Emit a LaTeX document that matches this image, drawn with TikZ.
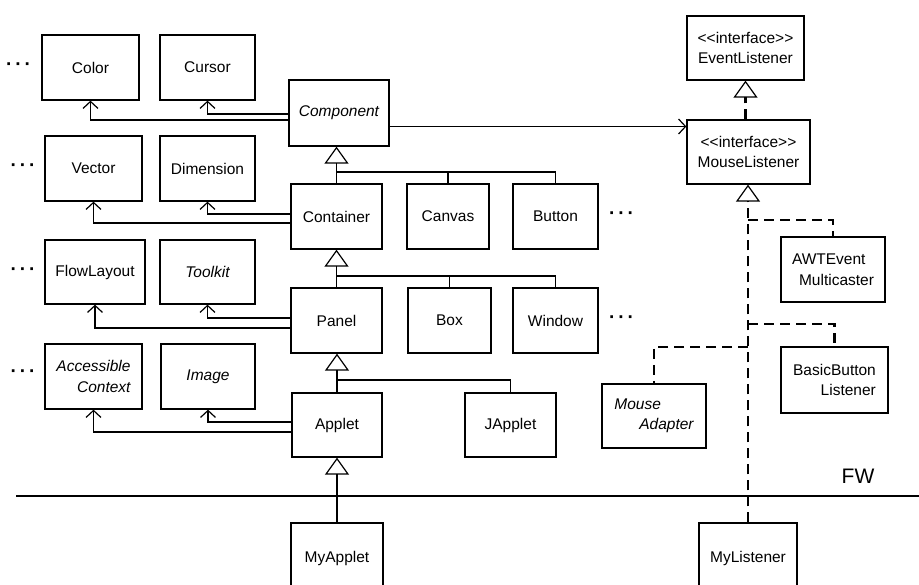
\documentclass[tikz,border=0pt]{standalone}
\usepackage{fontspec}
\setmainfont{Liberation Sans}
\usetikzlibrary{arrows.meta}
\newcommand\threedots{·\hspace{3pt}·\hspace{3pt}·}
\begin{document}
\begin{tikzpicture}[x=1pt,y=-1pt,
  cls/.style={draw, line width=1.3pt, inner sep=0pt, minimum height=65pt, fill=white,
    font=\fontsize{15.5}{20.5}\selectfont},
  dotsty/.style={inner sep=0pt, font=\fontsize{19}{19}\selectfont\bfseries},
  plain/.style={line width=1.2pt},
  dep/.style={line width=1.2pt, -{Straight Barb[length=7pt,width=15pt,line width=1.2pt]}},
  inh/.style={line width=1.2pt, -{Triangle[open,length=17pt,width=24pt,line width=1.2pt]}},
  real/.style={line width=2.2pt, dash pattern=on 10pt off 6pt},
  realinh/.style={real, -{Triangle[open,length=17pt,width=24pt,line width=1.2pt]}}
]
\useasboundingbox (0,0) rectangle (919,585);
\clip (0,0) rectangle (919,585);

% left column classes
\node[cls, minimum width=97pt] (Color) at (90.5,67.5) {Color};
\node[cls, minimum width=95pt] (Cursor) at (207.5,67.5) {Cursor};
\node[cls, minimum width=97pt] (Vector) at (93.5,168.5) {Vector};
\node[cls, minimum width=95pt] (Dimension) at (207.5,168.5) {Dimension};
\node[cls, minimum width=100pt, minimum height=64pt] (FlowLayout) at (95,272) {FlowLayout};
\node[cls, minimum width=95pt, minimum height=64pt] (Toolkit) at (207.5,272) {\itshape Toolkit};
\node[cls, minimum width=97pt, align=right] (Accessible) at (93.5,376.5) {\itshape Accessible\\\itshape Context};
\node[cls, minimum width=94pt] (Image) at (208,376.5) {\itshape Image};

% hierarchy
\node[cls, minimum width=100pt, minimum height=66pt] (Component) at (339,113) {\itshape Component};
\node[cls, minimum width=91pt] (Container) at (336.5,216.5) {Container};
\node[cls, minimum width=82pt] (Canvas) at (448,216.5) {Canvas};
\node[cls, minimum width=85pt] (Button) at (555.5,216.5) {Button};
\node[cls, minimum width=91pt] (Panel) at (336.5,320.5) {Panel};
\node[cls, minimum width=83pt] (Box) at (449.5,320.5) {Box};
\node[cls, minimum width=85pt] (Window) at (555.5,320.5) {Window};
\node[cls, minimum width=90pt, minimum height=64pt] (Applet) at (337,425) {Applet};
\node[cls, minimum width=91pt, minimum height=64pt] (JApplet) at (510.5,425) {JApplet};
\node[cls, minimum width=92pt, minimum height=70pt] (MyApplet) at (337,558) {MyApplet};

% listeners
\node[cls, minimum width=117pt, minimum height=64pt, align=center] (EventListener) at (745.5,48) {<{}<interface>{}>\\EventListener};
\node[cls, minimum width=123pt, minimum height=64pt, align=center] (MouseListener) at (748.5,152) {<{}<interface>{}>\\MouseListener};
\node[cls, minimum width=104pt, align=left] (AWT) at (833,269.5) {AWTEvent\\\hspace{7pt}Multicaster};
\node[cls, minimum width=107pt, minimum height=66pt, align=right] (Basic) at (834.5,380) {BasicButton\\Listener};
\node[cls, minimum width=104pt, minimum height=64pt, align=left] (MouseAdapter) at (654,416) {\itshape Mouse\\\hspace{25pt}\itshape Adapter};
\node[cls, minimum width=98pt, minimum height=70pt] (MyListener) at (748,558) {MyListener};

% ellipses
\node[dotsty] (d1) at (18.5,67) {\threedots};
\node[dotsty] (d2) at (23,168) {\threedots};
\node[dotsty] (d3) at (23,272) {\threedots};
\node[dotsty] (d4) at (23,374) {\threedots};
\node[dotsty] (d5) at (621.5,216) {\threedots};
\node[dotsty] (d6) at (621.5,320) {\threedots};

% FW boundary
\coordinate (fwL) at (16,496);
\coordinate (fwR) at (919,496);
\draw[line width=1.3pt] (fwL) -- (fwR);
\node[font=\fontsize{21}{21}\selectfont] (fw) at (858,476) {FW};

% dependencies
\draw[dep] ([yshift=-7pt]Component.west) -| (Color.south);
\draw[dep] ([yshift=-1pt]Component.west) -| (Cursor.south);
\draw[dep] ([yshift=-6.5pt]Container.west) -| (Vector.south);
\draw[dep] ([yshift=2.5pt]Container.west) -| (Dimension.south);
\draw[dep] ([yshift=-7.5pt]Panel.west) -| (FlowLayout.south);
\draw[dep] ([yshift=2.5pt]Panel.west) -| (Toolkit.south);
\draw[dep] ([yshift=-7pt]Applet.west) -| (Accessible.south);
\draw[dep] ([yshift=3pt]Applet.west) -| (Image.south);
\coordinate (cm) at ([yshift=-13.5pt]Component.east);
\draw[dep] (cm) -- (cm -| MouseListener.west);

% inheritance trees
\coordinate (j1) at (336.5,172);
\draw[inh] (j1) -- (j1 |- Component.south);
\draw[plain] (Container.north) -- (j1) -| (Button.north);
\draw[plain] (j1) -| (Canvas.north);

\coordinate (j2) at (336.5,276);
\draw[inh] (j2) -- (j2 |- Container.south);
\draw[plain] (Panel.north) -- (j2) -| (Window.north);
\draw[plain] (j2) -| (Box.north);

\coordinate (j3) at (337,380);
\draw[inh] (j3) -- (j3 |- Panel.south);
\draw[plain] (Applet.north) -- (j3) -| (JApplet.north);

\draw[inh] (MyApplet.north) -- (Applet.south);

% realizations
\draw[realinh] (MouseListener.north -| EventListener.south) -- (EventListener.south);
\draw[realinh] (MyListener.north) -- (MyListener.north |- MouseListener.south);
\coordinate (k1) at (748,220);
\coordinate (k2) at (748,324);
\coordinate (k3) at (748,347);
\draw[real] (k1) -| (AWT.north);
\draw[real] (k2) -| (Basic.north);
\draw[real] (k3) -| (MouseAdapter.north);
\end{tikzpicture}
\end{document}
